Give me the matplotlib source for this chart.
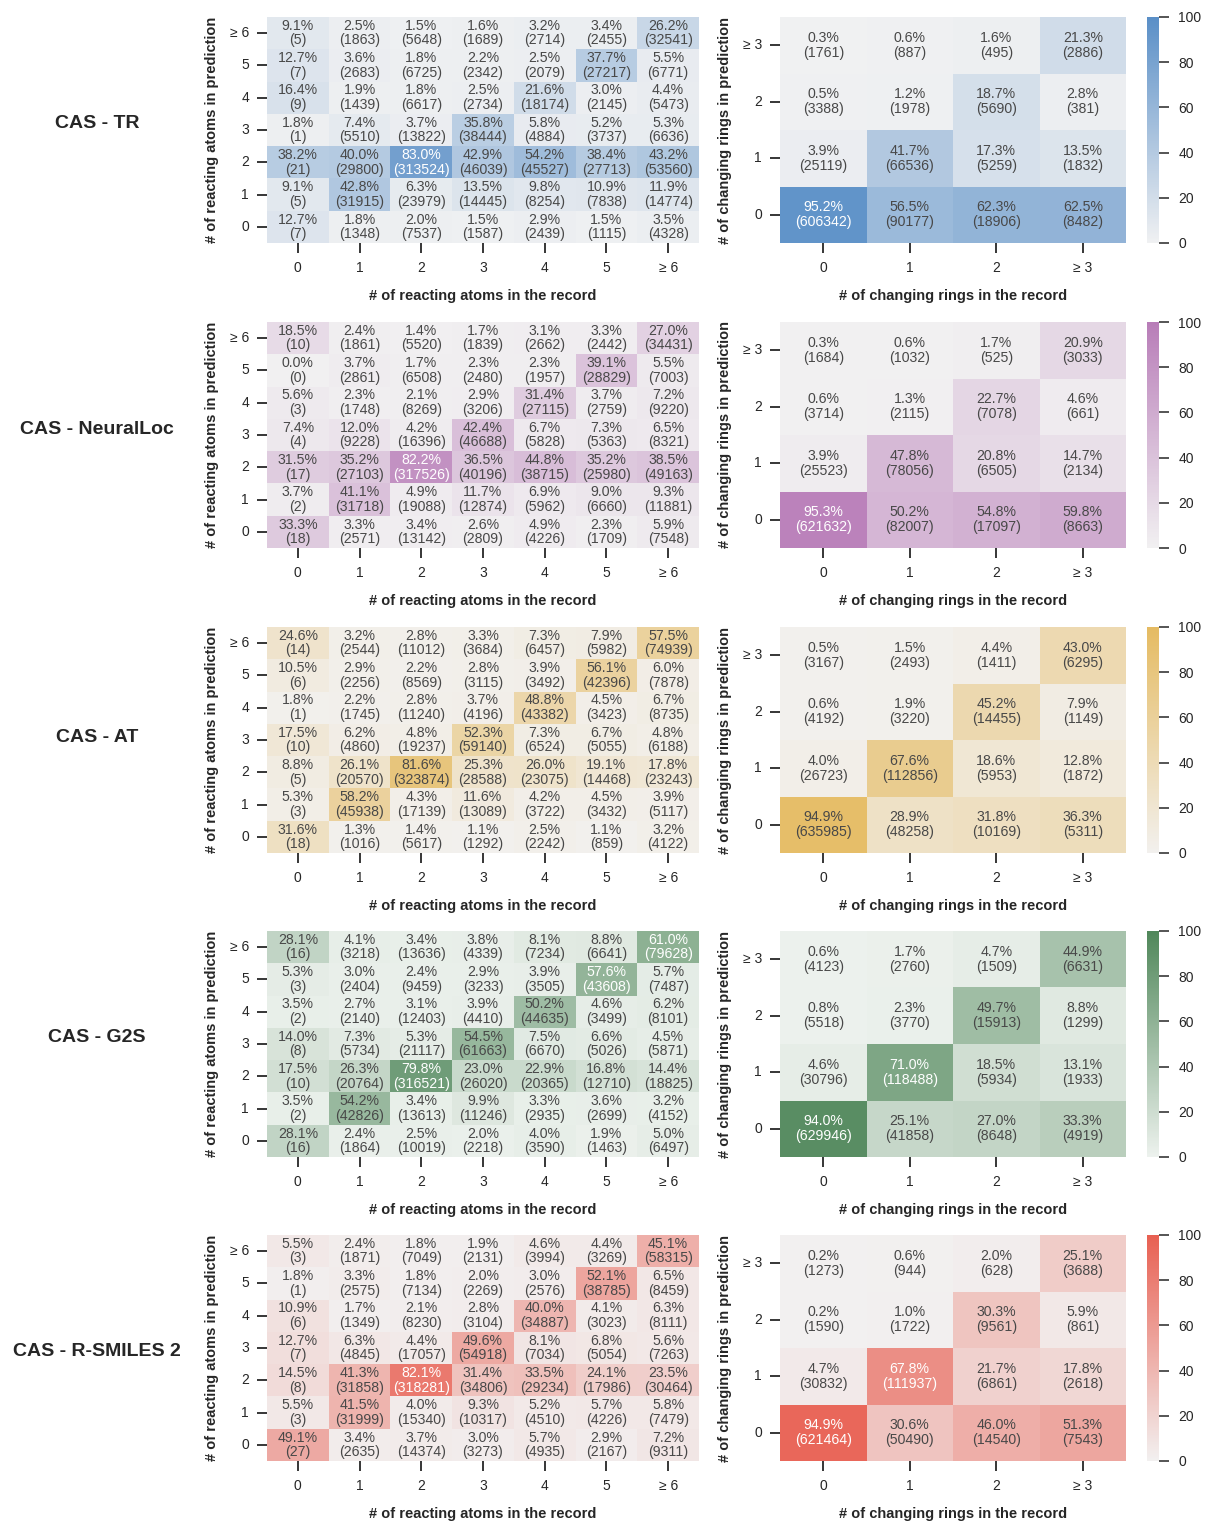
import numpy as np
import matplotlib
matplotlib.use("Agg")
import matplotlib.pyplot as plt
import seaborn as sns

sns.set_style("ticks")
plt.rcParams["font.family"] = ["Liberation Sans", "DejaVu Sans"]

# Axis categories
atom_labels = ["0", "1", "2", "3", "4", "5", "≥ 6"]
ring_labels = ["0", "1", "2", "≥ 3"]

model_names = ["CAS - TR", "CAS - NeuralLoc", "CAS - AT", "CAS - G2S", "CAS - R-SMILES 2"]
model_colors = ["#5a8fc7", "#b87db8", "#e5bb62", "#50875a", "#e86052"]

# Rows listed top to bottom (prediction ≥6 ... 0); columns = record 0 ... ≥6
tr_atoms_pct = [
    [9.1, 2.5, 1.5, 1.6, 3.2, 3.4, 26.2],
    [12.7, 3.6, 1.8, 2.2, 2.5, 37.7, 5.5],
    [16.4, 1.9, 1.8, 2.5, 21.6, 3.0, 4.4],
    [1.8, 7.4, 3.7, 35.8, 5.8, 5.2, 5.3],
    [38.2, 40.0, 83.0, 42.9, 54.2, 38.4, 43.2],
    [9.1, 42.8, 6.3, 13.5, 9.8, 10.9, 11.9],
    [12.7, 1.8, 2.0, 1.5, 2.9, 1.5, 3.5],
]
tr_atoms_n = [
    [5, 1863, 5648, 1689, 2714, 2455, 32541],
    [7, 2683, 6725, 2342, 2079, 27217, 6771],
    [9, 1439, 6617, 2734, 18174, 2145, 5473],
    [1, 5510, 13822, 38444, 4884, 3737, 6636],
    [21, 29800, 313524, 46039, 45527, 27713, 53560],
    [5, 31915, 23979, 14445, 8254, 7838, 14774],
    [7, 1348, 7537, 1587, 2439, 1115, 4328],
]
# Rows listed top to bottom (prediction ≥3 ... 0); columns = record 0 ... ≥3
tr_rings_pct = [
    [0.3, 0.6, 1.6, 21.3],
    [0.5, 1.2, 18.7, 2.8],
    [3.9, 41.7, 17.3, 13.5],
    [95.2, 56.5, 62.3, 62.5],
]
tr_rings_n = [
    [1761, 887, 495, 2886],
    [3388, 1978, 5690, 381],
    [25119, 66536, 5259, 1832],
    [606342, 90177, 18906, 8482],
]

nl_atoms_pct = [
    [18.5, 2.4, 1.4, 1.7, 3.1, 3.3, 27.0],
    [0.0, 3.7, 1.7, 2.3, 2.3, 39.1, 5.5],
    [5.6, 2.3, 2.1, 2.9, 31.4, 3.7, 7.2],
    [7.4, 12.0, 4.2, 42.4, 6.7, 7.3, 6.5],
    [31.5, 35.2, 82.2, 36.5, 44.8, 35.2, 38.5],
    [3.7, 41.1, 4.9, 11.7, 6.9, 9.0, 9.3],
    [33.3, 3.3, 3.4, 2.6, 4.9, 2.3, 5.9],
]
nl_atoms_n = [
    [10, 1861, 5520, 1839, 2662, 2442, 34431],
    [0, 2861, 6508, 2480, 1957, 28829, 7003],
    [3, 1748, 8269, 3206, 27115, 2759, 9220],
    [4, 9228, 16396, 46688, 5828, 5363, 8321],
    [17, 27103, 317526, 40196, 38715, 25980, 49163],
    [2, 31718, 19088, 12874, 5962, 6660, 11881],
    [18, 2571, 13142, 2809, 4226, 1709, 7548],
]
nl_rings_pct = [
    [0.3, 0.6, 1.7, 20.9],
    [0.6, 1.3, 22.7, 4.6],
    [3.9, 47.8, 20.8, 14.7],
    [95.3, 50.2, 54.8, 59.8],
]
nl_rings_n = [
    [1684, 1032, 525, 3033],
    [3714, 2115, 7078, 661],
    [25523, 78056, 6505, 2134],
    [621632, 82007, 17097, 8663],
]

at_atoms_pct = [
    [24.6, 3.2, 2.8, 3.3, 7.3, 7.9, 57.5],
    [10.5, 2.9, 2.2, 2.8, 3.9, 56.1, 6.0],
    [1.8, 2.2, 2.8, 3.7, 48.8, 4.5, 6.7],
    [17.5, 6.2, 4.8, 52.3, 7.3, 6.7, 4.8],
    [8.8, 26.1, 81.6, 25.3, 26.0, 19.1, 17.8],
    [5.3, 58.2, 4.3, 11.6, 4.2, 4.5, 3.9],
    [31.6, 1.3, 1.4, 1.1, 2.5, 1.1, 3.2],
]
at_atoms_n = [
    [14, 2544, 11012, 3684, 6457, 5982, 74939],
    [6, 2256, 8569, 3115, 3492, 42396, 7878],
    [1, 1745, 11240, 4196, 43382, 3423, 8735],
    [10, 4860, 19237, 59140, 6524, 5055, 6188],
    [5, 20570, 323874, 28588, 23075, 14468, 23243],
    [3, 45938, 17139, 13089, 3722, 3432, 5117],
    [18, 1016, 5617, 1292, 2242, 859, 4122],
]
at_rings_pct = [
    [0.5, 1.5, 4.4, 43.0],
    [0.6, 1.9, 45.2, 7.9],
    [4.0, 67.6, 18.6, 12.8],
    [94.9, 28.9, 31.8, 36.3],
]
at_rings_n = [
    [3167, 2493, 1411, 6295],
    [4192, 3220, 14455, 1149],
    [26723, 112856, 5953, 1872],
    [635985, 48258, 10169, 5311],
]

g2s_atoms_pct = [
    [28.1, 4.1, 3.4, 3.8, 8.1, 8.8, 61.0],
    [5.3, 3.0, 2.4, 2.9, 3.9, 57.6, 5.7],
    [3.5, 2.7, 3.1, 3.9, 50.2, 4.6, 6.2],
    [14.0, 7.3, 5.3, 54.5, 7.5, 6.6, 4.5],
    [17.5, 26.3, 79.8, 23.0, 22.9, 16.8, 14.4],
    [3.5, 54.2, 3.4, 9.9, 3.3, 3.6, 3.2],
    [28.1, 2.4, 2.5, 2.0, 4.0, 1.9, 5.0],
]
g2s_atoms_n = [
    [16, 3218, 13636, 4339, 7234, 6641, 79628],
    [3, 2404, 9459, 3233, 3505, 43608, 7487],
    [2, 2140, 12403, 4410, 44635, 3499, 8101],
    [8, 5734, 21117, 61663, 6670, 5026, 5871],
    [10, 20764, 316521, 26020, 20365, 12710, 18825],
    [2, 42826, 13613, 11246, 2935, 2699, 4152],
    [16, 1864, 10019, 2218, 3590, 1463, 6497],
]
g2s_rings_pct = [
    [0.6, 1.7, 4.7, 44.9],
    [0.8, 2.3, 49.7, 8.8],
    [4.6, 71.0, 18.5, 13.1],
    [94.0, 25.1, 27.0, 33.3],
]
g2s_rings_n = [
    [4123, 2760, 1509, 6631],
    [5518, 3770, 15913, 1299],
    [30796, 118488, 5934, 1933],
    [629946, 41858, 8648, 4919],
]

rs_atoms_pct = [
    [5.5, 2.4, 1.8, 1.9, 4.6, 4.4, 45.1],
    [1.8, 3.3, 1.8, 2.0, 3.0, 52.1, 6.5],
    [10.9, 1.7, 2.1, 2.8, 40.0, 4.1, 6.3],
    [12.7, 6.3, 4.4, 49.6, 8.1, 6.8, 5.6],
    [14.5, 41.3, 82.1, 31.4, 33.5, 24.1, 23.5],
    [5.5, 41.5, 4.0, 9.3, 5.2, 5.7, 5.8],
    [49.1, 3.4, 3.7, 3.0, 5.7, 2.9, 7.2],
]
rs_atoms_n = [
    [3, 1871, 7049, 2131, 3994, 3269, 58315],
    [1, 2575, 7134, 2269, 2576, 38785, 8459],
    [6, 1349, 8230, 3104, 34887, 3023, 8111],
    [7, 4845, 17057, 54918, 7034, 5054, 7263],
    [8, 31858, 318281, 34806, 29234, 17986, 30464],
    [3, 31999, 15340, 10317, 4510, 4226, 7479],
    [27, 2635, 14374, 3273, 4935, 2167, 9311],
]
rs_rings_pct = [
    [0.2, 0.6, 2.0, 25.1],
    [0.2, 1.0, 30.3, 5.9],
    [4.7, 67.8, 21.7, 17.8],
    [94.9, 30.6, 46.0, 51.3],
]
rs_rings_n = [
    [1273, 944, 628, 3688],
    [1590, 1722, 9561, 861],
    [30832, 111937, 6861, 2618],
    [621464, 50490, 14540, 7543],
]

atoms_pct = [tr_atoms_pct, nl_atoms_pct, at_atoms_pct, g2s_atoms_pct, rs_atoms_pct]
atoms_n = [tr_atoms_n, nl_atoms_n, at_atoms_n, g2s_atoms_n, rs_atoms_n]
rings_pct = [tr_rings_pct, nl_rings_pct, at_rings_pct, g2s_rings_pct, rs_rings_pct]
rings_n = [tr_rings_n, nl_rings_n, at_rings_n, g2s_rings_n, rs_rings_n]

W, H = 1205, 1521
fig = plt.figure(figsize=(W / 100, H / 100), dpi=100)

row_tops = [17, 322, 627, 931, 1235]
title_y = [123, 430, 738, 1038, 1352]
HM_H = 226

ANNOT_SIZE = 10.2
TICK_SIZE = 10
LABEL_SIZE = 10.5
DARK_TEXT = "#484848"
LUM_CUTOFF = 0.415


def px_axes(x0, y0, w, h):
    return fig.add_axes([x0 / W, 1 - (y0 + h) / H, w / W, h / H])


def luminance(rgb):
    rgb = np.asarray(rgb[:3])
    lin = np.where(rgb <= 0.03928, rgb / 12.92, ((rgb + 0.055) / 1.055) ** 2.4)
    return float(lin @ np.array([0.2126, 0.7152, 0.0722]))


def draw_heatmap(ax, pct, n, xlabels, ylabels, cmap, xlabel, ylabel):
    data = np.array(pct, dtype=float)
    sns.heatmap(data, ax=ax, cmap=cmap, vmin=0, vmax=100, annot=False, cbar=False,
                xticklabels=xlabels, yticklabels=ylabels)
    for r in range(data.shape[0]):
        for c in range(data.shape[1]):
            face = cmap(data[r, c] / 100.0)
            color = DARK_TEXT if luminance(face) > LUM_CUTOFF else "white"
            ax.text(c + 0.5, r + 0.5, f"{data[r, c]:.1f}%\n({n[r][c]})",
                    ha="center", va="center", fontsize=ANNOT_SIZE,
                    linespacing=1.05, color=color)
    ax.tick_params(axis="both", length=7, width=1.1, pad=6,
                   labelsize=TICK_SIZE, color="black")
    ax.set_yticklabels(ylabels, rotation=0)
    ax.set_xticklabels(xlabels, rotation=0)
    ax.set_xlabel(xlabel, fontsize=LABEL_SIZE, fontweight="bold", labelpad=10)
    ax.set_ylabel(ylabel, fontsize=LABEL_SIZE, fontweight="bold", labelpad=8)


for i in range(5):
    top = row_tops[i]
    cmap = sns.light_palette(model_colors[i], as_cmap=True)

    ax_a = px_axes(267, top, 432, HM_H)
    draw_heatmap(ax_a, atoms_pct[i], atoms_n[i], atom_labels, atom_labels[::-1], cmap,
                 "# of reacting atoms in the record",
                 "# of reacting atoms in prediction")

    ax_r = px_axes(780, top, 346, HM_H)
    draw_heatmap(ax_r, rings_pct[i], rings_n[i], ring_labels, ring_labels[::-1], cmap,
                 "# of changing rings in the record",
                 "# of changing rings in prediction")

    cax = px_axes(1147, top, 12, HM_H)
    sm = plt.cm.ScalarMappable(cmap=cmap, norm=plt.Normalize(0, 100))
    cb = fig.colorbar(sm, cax=cax, ticks=[0, 20, 40, 60, 80, 100])
    cb.outline.set_visible(False)
    cax.tick_params(length=7, width=1.1, pad=7, labelsize=TICK_SIZE)

    fig.text(97 / W, 1 - title_y[i] / H, model_names[i], ha="center", va="center",
             fontsize=14, fontweight="bold")

fig.savefig("out.png", dpi=100)
